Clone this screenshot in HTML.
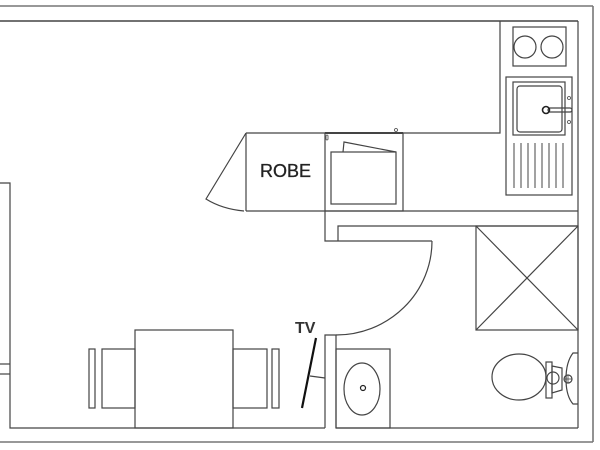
<!DOCTYPE html>
<html><head><meta charset="utf-8"><style>
html,body{margin:0;padding:0;background:#fff;}
svg{display:block;}
</style></head><body>
<svg width="600" height="450" viewBox="0 0 600 450" xmlns="http://www.w3.org/2000/svg">
<g fill="none" stroke="#444" stroke-width="1.2">
<line x1="0" y1="6" x2="593" y2="6" stroke="#777" stroke-width="1.6"/>
<line x1="593" y1="6" x2="593" y2="442" stroke="#777" stroke-width="1.6"/>
<line x1="0" y1="442" x2="593" y2="442" stroke="#777" stroke-width="1.6"/>
<line x1="0" y1="21" x2="578" y2="21" stroke-width="1.6"/>
<line x1="578" y1="21" x2="578" y2="428"/>
<polyline points="0,183 10,183 10,428 325,428"/>
<line x1="0" y1="364" x2="10" y2="364"/>
<line x1="0" y1="374" x2="10" y2="374"/>
<polyline points="500,21 500,133 246,133"/>
<line x1="246" y1="211" x2="578" y2="211"/>
<line x1="246" y1="133" x2="246" y2="211"/>
<path d="M246,133 L206,199 Q222,209 244,211"/>
<rect x="325" y="133" width="78" height="78"/>
<line x1="325" y1="133" x2="403" y2="133" stroke-width="2"/>
<rect x="331" y="152" width="65" height="52"/>
<polyline points="343,152 344,142 396,152"/>
<rect x="326" y="135" width="2" height="5" rx="1" stroke-width="0.8"/>
<circle cx="396" cy="130" r="1.5" stroke-width="0.8"/>
<polyline points="325,211 325,241 432,241"/>
<polyline points="338,241 338,226 578,226"/>
<path d="M432,241 A96,94 0 0 1 336,335"/>
<polyline points="325,428 325,335 336,335 336,428"/>
<line x1="336" y1="428" x2="578" y2="428"/>
<rect x="513" y="27" width="53" height="39"/>
<circle cx="525" cy="47" r="11"/>
<circle cx="552" cy="47" r="11"/>
<rect x="506" y="77" width="66" height="118"/>
<rect x="513" y="82" width="52" height="53"/>
<rect x="517" y="86" width="45" height="46" rx="3"/>
<rect x="548" y="108" width="24" height="4" rx="2"/>
<circle cx="546" cy="110" r="3.5" stroke="#222" stroke-width="1.6"/>
<circle cx="569" cy="98" r="1.5" stroke-width="0.8"/>
<circle cx="569" cy="122" r="1.5" stroke-width="0.8"/>
<g stroke-width="1">
<line x1="514" y1="143" x2="514" y2="188"/><line x1="521" y1="143" x2="521" y2="188"/>
<line x1="528" y1="143" x2="528" y2="188"/><line x1="535" y1="143" x2="535" y2="188"/>
<line x1="542" y1="143" x2="542" y2="188"/><line x1="549" y1="143" x2="549" y2="188"/>
<line x1="556" y1="143" x2="556" y2="188"/><line x1="563" y1="143" x2="563" y2="188"/>
</g>
<rect x="476" y="226" width="102" height="104"/>
<line x1="476" y1="226" x2="578" y2="330"/>
<line x1="578" y1="226" x2="476" y2="330"/>
<ellipse cx="519" cy="377" rx="27" ry="23"/>
<path d="M578,353 L573,353 Q566,362 566,379 Q566,396 573,404 L578,404"/>
<rect x="546" y="362" width="6" height="36"/>
<polygon points="552,366 562,368 562,390 552,393"/>
<circle cx="553" cy="378" r="6"/>
<circle cx="568" cy="379" r="4"/>
<line x1="564" y1="379" x2="572" y2="379" stroke-width="0.8"/>
<line x1="568" y1="375" x2="568" y2="383" stroke-width="0.8"/>
<rect x="336" y="349" width="54" height="79"/>
<ellipse cx="362" cy="389" rx="18" ry="26"/>
<circle cx="363" cy="388" r="2.5" stroke="#222"/>
<rect x="135" y="330" width="98" height="98"/>
<rect x="102" y="349" width="33" height="59"/>
<rect x="89" y="349" width="6" height="59"/>
<rect x="233" y="349" width="34" height="59"/>
<rect x="272" y="349" width="7" height="59"/>
<line x1="316" y1="338" x2="302" y2="408" stroke="#111" stroke-width="2.2"/>
<line x1="310" y1="376" x2="325" y2="378"/>
</g>
<text x="260" y="177" font-family="Liberation Sans, sans-serif" font-size="18" fill="#222" stroke="#222" stroke-width="0.3">ROBE</text>
<text x="295" y="333" font-family="Liberation Sans, sans-serif" font-size="16" font-weight="bold" fill="#333">TV</text>
</svg>
</body></html>
